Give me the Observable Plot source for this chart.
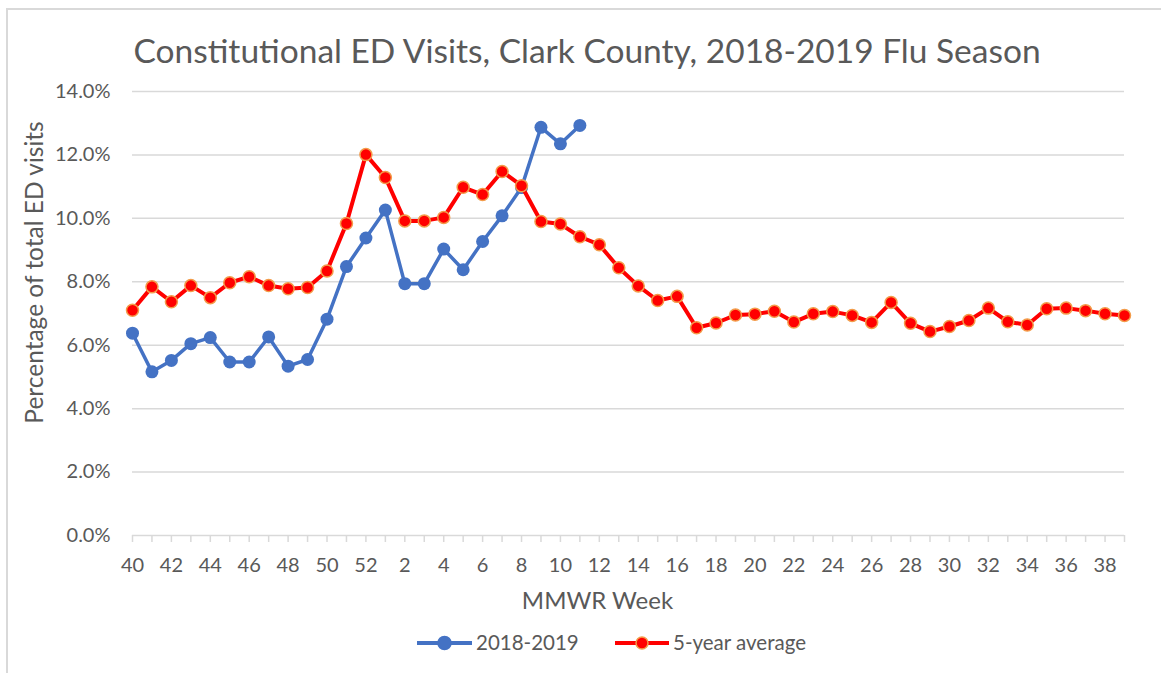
<!DOCTYPE html>
<html>
<head>
<meta charset="utf-8">
<script src="https://cdn.jsdelivr.net/npm/d3@7"></script>
<script src="https://cdn.jsdelivr.net/npm/@observablehq/plot@0.6"></script>
<style>
  html, body { margin: 0; padding: 0; background: #fff; }
  #chart svg { display: block; }
</style>
</head>
<body>
<div id="chart"></div>
<script>
// ---- Data ----
const weeks = [40,41,42,43,44,45,46,47,48,49,50,51,52,1,2,3,4,5,6,7,8,9,10,11,12,13,14,15,16,17,18,19,20,21,22,23,24,25,26,27,28,29,30,31,32,33,34,35,36,37,38,39];
const season2018 = [6.38,5.16,5.52,6.05,6.24,5.47,5.47,6.26,5.34,5.55,6.82,8.48,9.38,10.26,7.94,7.94,9.03,8.38,9.27,10.08,10.97,12.87,12.35,12.93];
const fiveYearAvg = [7.10,7.84,7.37,7.88,7.50,7.97,8.16,7.88,7.78,7.82,8.34,9.84,12.01,11.29,9.92,9.92,10.03,10.98,10.75,11.48,11.03,9.90,9.82,9.42,9.17,8.44,7.87,7.41,7.54,6.55,6.70,6.95,6.98,7.07,6.73,6.99,7.06,6.94,6.72,7.35,6.69,6.43,6.59,6.78,7.17,6.74,6.64,7.15,7.17,7.09,6.99,6.94];
const yTicks = [0,2,4,6,8,10,12,14];
const xTickLabels = weeks.filter((d, i) => i % 2 === 0);
const seriesNames = ["2018-2019", "5-year average"];
const titleText = "Constitutional ED Visits, Clark County, 2018-2019 Flu Season";
const yLabel = "Percentage of total ED visits";
const xLabel = "MMWR Week";

// ---- Tables ----
const blueData = season2018.map((v, i) => ({week: weeks[i], value: v}));
const redData = fiveYearAvg.map((v, i) => ({week: weeks[i], value: v}));

const font = "Lato, 'Liberation Sans', sans-serif";
const grey = "#595959";
const blueColor = "#4472C4";
const redColor = "#FF0000";
const markerEdge = "#F39C4A";

const chart = Plot.plot({
  width: 1161,
  height: 673,
  marginLeft: 132,
  marginRight: 37,
  marginTop: 91,
  marginBottom: 138,
  style: {fontFamily: font, background: "#fff", color: grey, overflow: "visible"},
  x: {type: "point", domain: weeks, padding: 0, round: false},
  y: {domain: [0, 14]},
  marks: [
    Plot.gridY(yTicks.filter(d => d > 0), {stroke: "#d9d9d9", strokeOpacity: 1, strokeWidth: 1.5}),
    Plot.ruleY([0], {stroke: "#d9d9d9", strokeWidth: 1.5}),
    Plot.axisX({ticks: weeks, tickSize: 7, tickFormat: () => "", stroke: "#d9d9d9", strokeWidth: 1.5, label: null}),
    Plot.axisX({ticks: xTickLabels, tickSize: 0, tickPadding: 22, fontSize: 20, fill: grey, label: null}),
    Plot.axisY({ticks: yTicks, tickSize: 0, tickPadding: 22, tickFormat: d => d.toFixed(1) + "%", fontSize: 20, fill: grey, label: null}),
    Plot.lineY(blueData, {x: "week", y: "value", stroke: blueColor, strokeWidth: 3.5}),
    Plot.dot(blueData, {x: "week", y: "value", r: 6.5, fill: blueColor}),
    Plot.lineY(redData, {x: "week", y: "value", stroke: redColor, strokeWidth: 4}),
    Plot.dot(redData, {x: "week", y: "value", r: 6, fill: redColor, stroke: markerEdge, strokeWidth: 1.5}),
    Plot.text([titleText], {frameAnchor: "top-left", dx: 1, dy: -39, lineAnchor: "middle", textAnchor: "start", fontSize: 33.5, fill: grey}),
    Plot.text([yLabel], {frameAnchor: "left", dx: -97, dy: -41, rotate: -90, lineAnchor: "middle", textAnchor: "middle", fontSize: 24.5, fill: grey}),
    Plot.text([xLabel], {frameAnchor: "bottom", dx: -31, dy: 66, lineAnchor: "middle", textAnchor: "middle", fontSize: 24, fill: grey})
  ]
});

// chart border (light frame, right/bottom edges fall outside the crop)
const svg = d3.select(chart);
svg.insert("rect", ":first-child")
  .attr("x", 7).attr("y", 9).attr("width", 1200).attr("height", 700)
  .attr("fill", "none").attr("stroke", "#d9d9d9").attr("stroke-width", 2);

// legend
const legendItems = [
  {name: seriesNames[0], color: blueColor, edge: blueColor, r: 6.5, x0: 417, x1: 472, tx: 476},
  {name: seriesNames[1], color: redColor, edge: markerEdge, r: 6, x0: 615, x1: 669, tx: 673}
];
const leg = svg.append("g").attr("font-family", font).attr("font-size", 20.5).attr("fill", grey).attr("text-anchor", "start");
legendItems.forEach(it => {
  const cy = 643;
  leg.append("line").attr("x1", it.x0).attr("x2", it.x1).attr("y1", cy).attr("y2", cy)
    .attr("stroke", it.color).attr("stroke-width", 4);
  leg.append("circle").attr("cx", (it.x0 + it.x1) / 2).attr("cy", cy).attr("r", it.r)
    .attr("fill", it.color).attr("stroke", it.edge).attr("stroke-width", 1.5);
  leg.append("text").attr("x", it.tx).attr("y", cy).attr("dy", "0.35em").attr("text-anchor", "start").text(it.name);
});

document.getElementById("chart").appendChild(chart);
</script>
</body>
</html>
